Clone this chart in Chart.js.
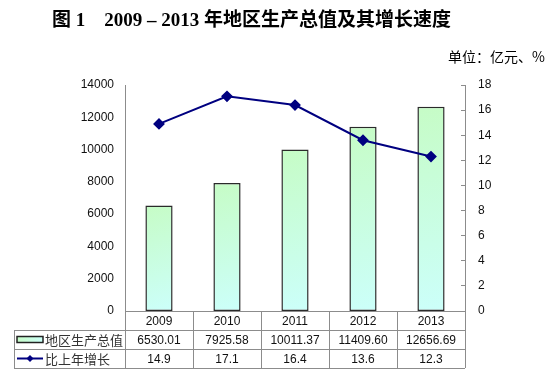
<!DOCTYPE html>
<html>
<head>
<meta charset="utf-8">
<script src="https://cdn.jsdelivr.net/npm/chart.js@4.4.0/dist/chart.umd.min.js"></script>
<style>
  body{margin:0;background:#fff;}
  #wrap{position:relative;width:545px;height:377px;overflow:hidden;}
  #title{position:absolute;left:52px;top:4px;font:bold 19px "Liberation Serif","Noto Sans CJK SC",serif;white-space:pre;color:#000;}
  #unit{position:absolute;right:0;top:46px;font:14px "Noto Sans CJK SC",sans-serif;color:#000;}
  canvas{position:absolute;left:0;top:0;}
</style>
</head>
<body>
<div id="wrap">
  <canvas id="chart" width="545" height="377"></canvas>
  <div id="title">图 1　2009 – 2013 年地区生产总值及其增长速度</div>
  <div id="unit">单位：亿元、%</div>
</div>
<script>
// data
const years = ['2009', '2010', '2011', '2012', '2013'];
const gdp = [6530.01, 7925.58, 10011.37, 11409.60, 12656.69];
const growth = [14.9, 17.1, 16.4, 13.6, 12.3];
const seriesNames = ['地区生产总值', '比上年增长'];
const gdpMax = 14000, gdpStep = 2000;
const growthMax = 18, growthStep = 2;

const LINE = '#000080';
const GRID = '#8c8c8c';
const TICK_FONT = { family: '"Liberation Sans", Arial, sans-serif', size: 12 };

function barGradient(ctx, x0, y0, x1, y1){
  const g = ctx.createLinearGradient(x0, y0, x1, y1);
  g.addColorStop(0, '#c6fcc6');
  g.addColorStop(1, '#ccfffa');
  return g;
}

// bar fill: diagonal gradient per bar, from the scales
function barFill(c){
  const chart = c.chart;
  if(!chart.chartArea || !chart.scales.x || c.dataIndex === undefined) return '#ccffe6';
  const xs = chart.scales.x, ys = chart.scales.y;
  const cx = xs.getPixelForValue(c.dataIndex);
  const w = (xs.width / years.length) * 0.4;
  const top = ys.getPixelForValue(gdp[c.dataIndex]);
  return barGradient(chart.ctx, cx - w/2, top, cx + w/2, ys.getPixelForValue(0));
}

// data table under the plot
const tablePlugin = {
  id: 'dataTable',
  afterDraw(chart){
    const ctx = chart.ctx, xs = chart.scales.x, area = chart.chartArea;
    const left = area.left, right = area.right;
    const cw = (right - left) / years.length;
    const tLeft = 14;
    const rows = [area.bottom, area.bottom + 19, area.bottom + 38, area.bottom + 57];
    ctx.save();
    ctx.strokeStyle = GRID;
    ctx.lineWidth = 1;
    ctx.beginPath();
    // horizontal lines
    ctx.moveTo(left, rows[0] + 0.5); ctx.lineTo(right, rows[0] + 0.5);
    for(let r = 1; r < 4; r++){ ctx.moveTo(tLeft, rows[r] + 0.5); ctx.lineTo(right, rows[r] + 0.5); }
    // vertical lines
    ctx.moveTo(tLeft + 0.5, rows[1]); ctx.lineTo(tLeft + 0.5, rows[3]);
    for(let i = 0; i <= years.length; i++){
      const x = Math.round(left + i * cw) + 0.5;
      ctx.moveTo(x, rows[0]); ctx.lineTo(x, rows[3]);
    }
    ctx.stroke();

    ctx.fillStyle = '#111';
    ctx.font = '12px "Liberation Sans", Arial, sans-serif';
    ctx.textAlign = 'center';
    ctx.textBaseline = 'middle';
    years.forEach((y, i) => {
      const cx = xs.getPixelForValue(i);
      ctx.fillText(y, cx, (rows[0] + rows[1]) / 2 + 1);
      ctx.fillText(gdp[i].toFixed(2), cx, (rows[1] + rows[2]) / 2 + 1);
      ctx.fillText(growth[i].toFixed(1), cx, (rows[2] + rows[3]) / 2 + 1);
    });

    // legend keys
    const m1 = (rows[1] + rows[2]) / 2, m2 = (rows[2] + rows[3]) / 2;
    ctx.fillStyle = barGradient(ctx, 17, m1 - 3, 43, m1 + 3);
    ctx.fillRect(17, m1 - 3, 26, 6);
    ctx.strokeStyle = '#222';
    ctx.lineWidth = 1.5;
    ctx.strokeRect(17, m1 - 3, 26, 6);
    ctx.strokeStyle = LINE;
    ctx.lineWidth = 2;
    ctx.beginPath(); ctx.moveTo(17, m2); ctx.lineTo(43, m2); ctx.stroke();
    ctx.fillStyle = LINE;
    ctx.beginPath();
    ctx.moveTo(30, m2 - 3.5); ctx.lineTo(33.5, m2); ctx.lineTo(30, m2 + 3.5); ctx.lineTo(26.5, m2);
    ctx.closePath(); ctx.fill();

    ctx.fillStyle = '#333';
    ctx.textAlign = 'left';
    ctx.font = '13px "Noto Sans CJK SC", sans-serif';
    ctx.fillText(seriesNames[0], 45, m1 + 1);
    ctx.fillText(seriesNames[1], 45, m2 + 1);
    ctx.restore();
  }
};

new Chart(document.getElementById('chart').getContext('2d'), {
  type: 'bar',
  data: {
    labels: years,
    datasets: [
      {
        type: 'bar', label: seriesNames[0], data: gdp, yAxisID: 'y',
        backgroundColor: barFill, borderColor: '#2a2a2a', borderWidth: 1.5,
        borderSkipped: false, barPercentage: 0.4, categoryPercentage: 1, order: 2
      },
      {
        type: 'line', label: seriesNames[1], data: growth, yAxisID: 'y1',
        borderColor: LINE, borderWidth: 2, pointStyle: 'rectRot', pointRadius: 4.5,
        pointBackgroundColor: LINE, pointBorderColor: LINE, tension: 0, order: 1
      }
    ]
  },
  options: {
    responsive: false,
    animation: false,
    events: [],
    layout: { padding: { top: 85, bottom: 66, left: 0, right: 0 } },
    plugins: { legend: { display: false }, tooltip: { enabled: false } },
    scales: {
      x: { display: false },
      y: {
        position: 'left', min: 0, max: gdpMax,
        ticks: { stepSize: gdpStep, padding: 11, color: '#111', font: TICK_FONT, callback: v => String(v) },
        grid: { display: false, drawTicks: false },
        border: { display: true, color: GRID, width: 1 },
        afterFit(s){ s.width = 125; }
      },
      y1: {
        position: 'right', min: 0, max: growthMax,
        ticks: { stepSize: growthStep, padding: 17, color: '#111', font: TICK_FONT, callback: v => String(v) },
        grid: { drawOnChartArea: false, tickLength: -4, color: GRID },
        border: { display: true, color: GRID, width: 1 },
        afterFit(s){ s.width = 80; }
      }
    }
  },
  plugins: [tablePlugin]
});
</script>
</body>
</html>
